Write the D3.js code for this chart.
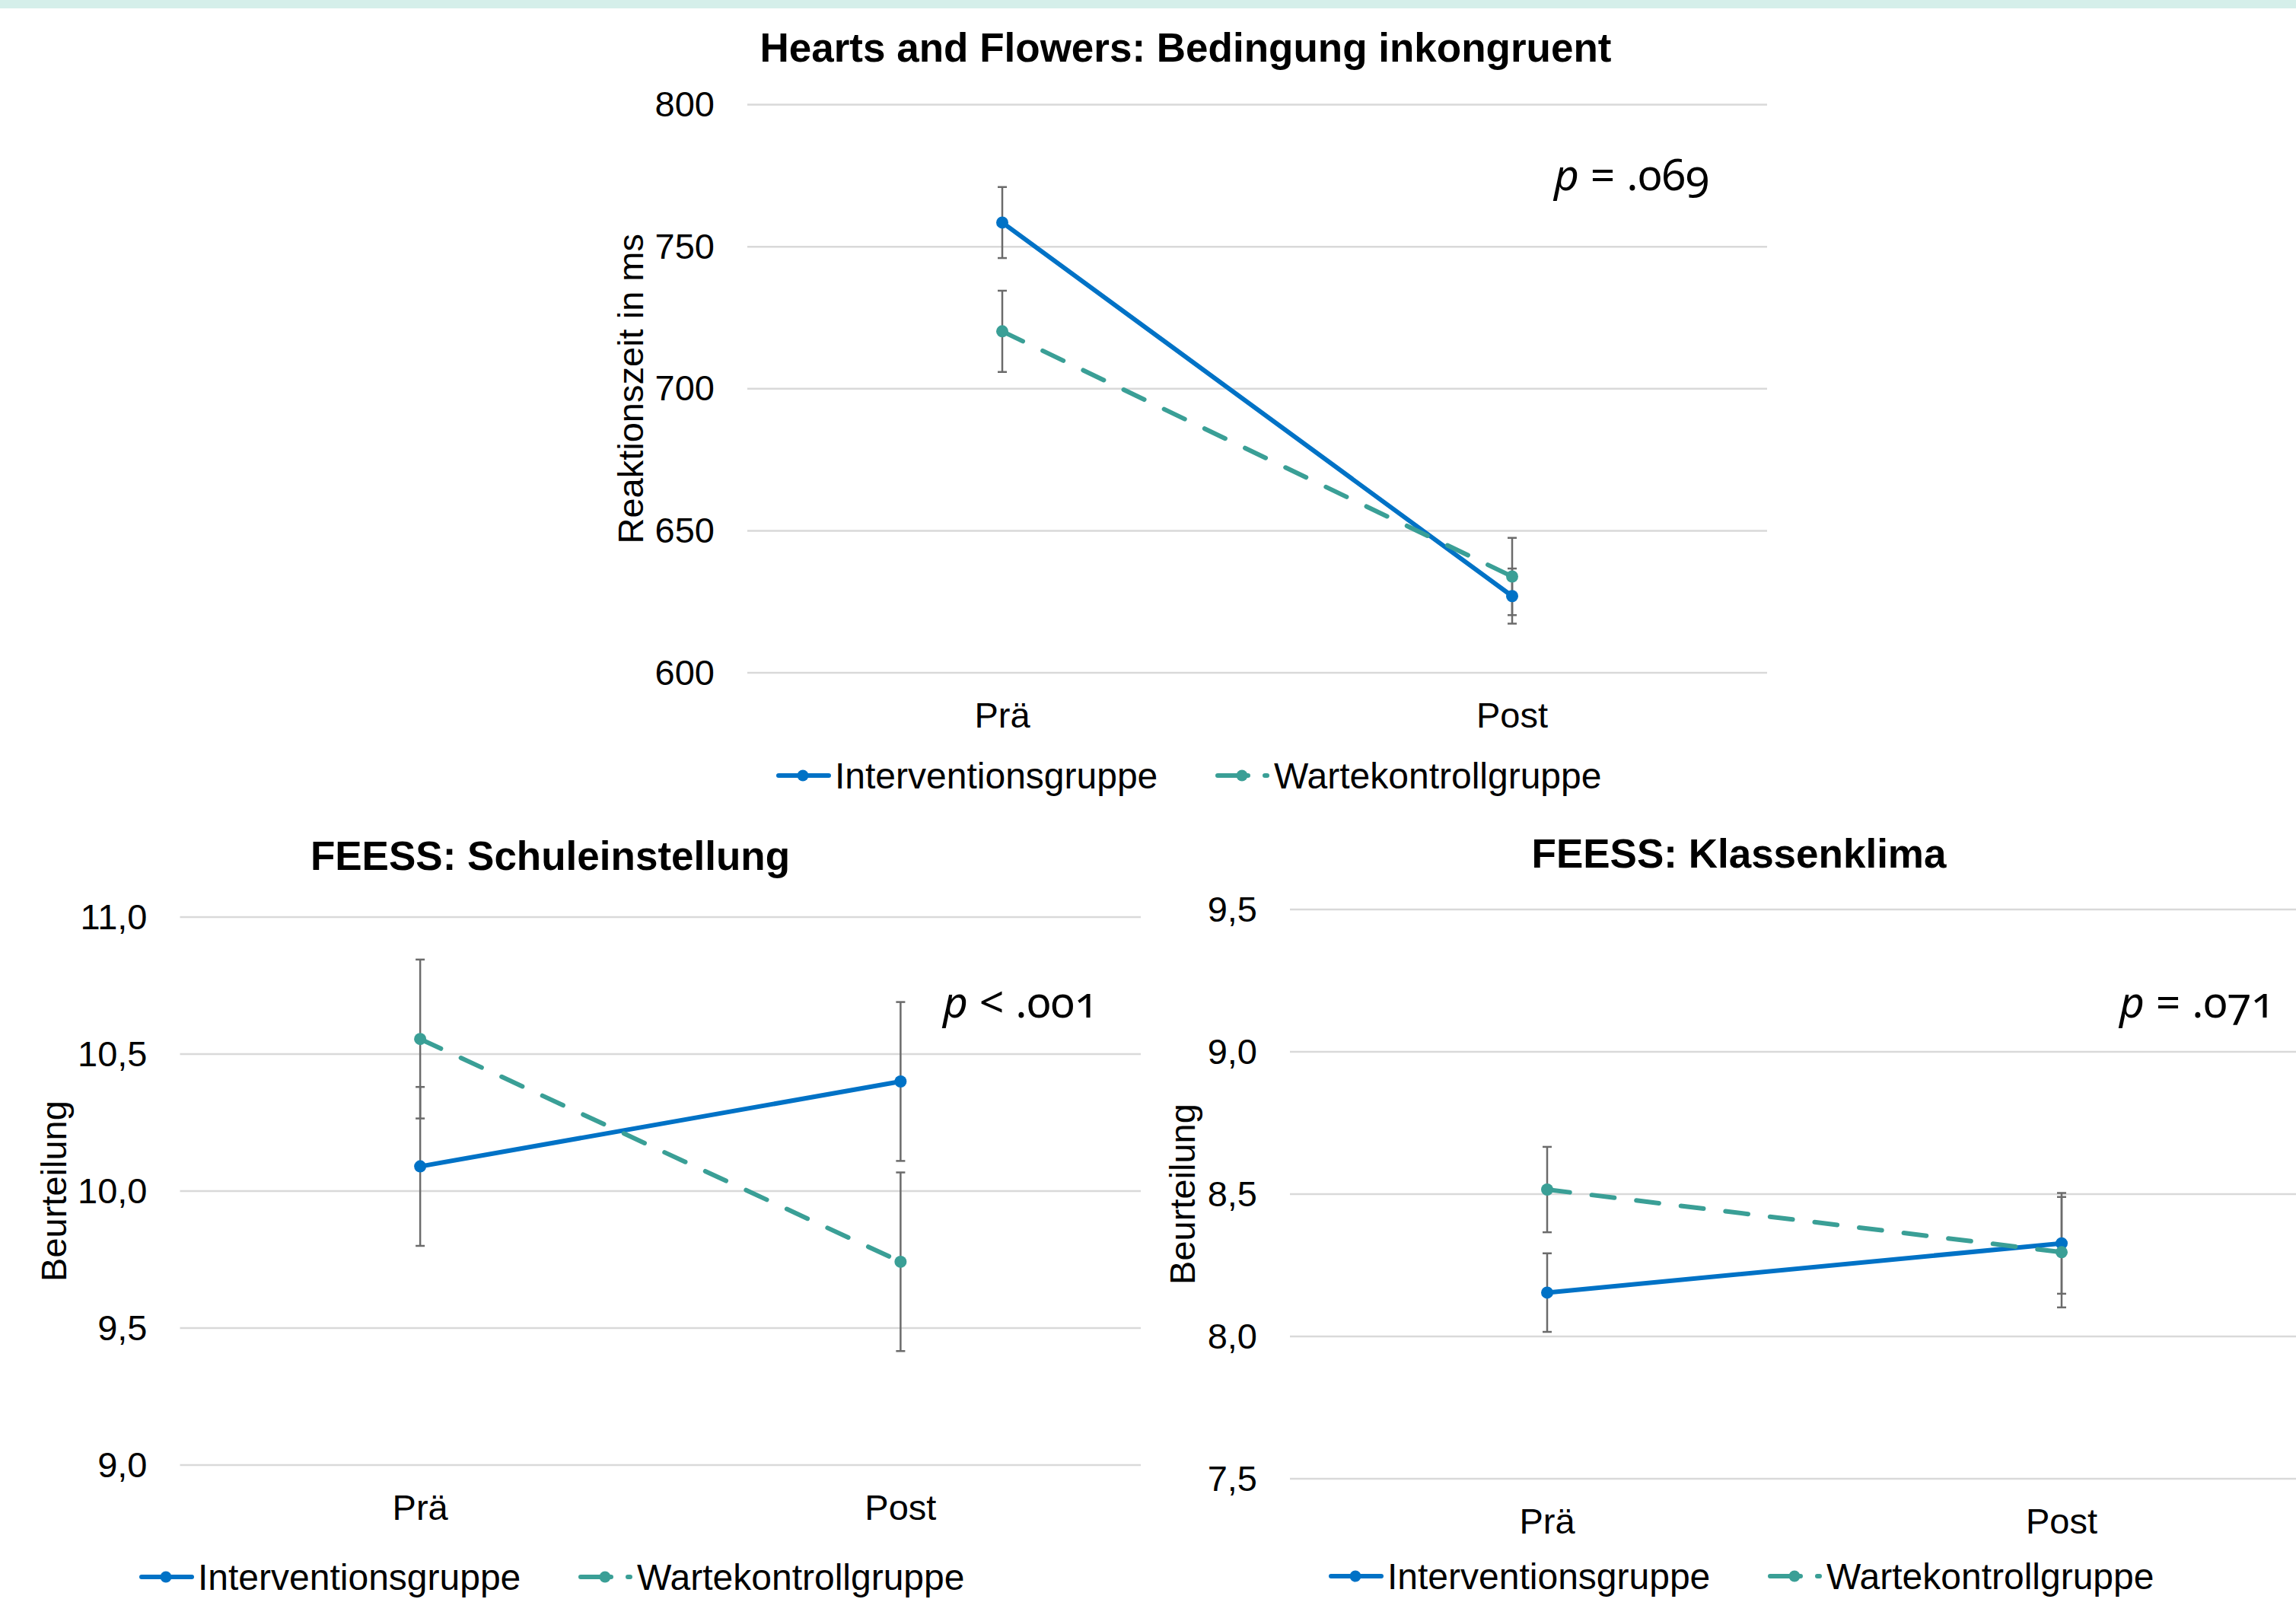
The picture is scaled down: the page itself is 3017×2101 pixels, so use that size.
<!DOCTYPE html>
<html><head><meta charset="utf-8">
<script src="https://cdn.jsdelivr.net/npm/d3@7"></script>
<style>html,body{margin:0;padding:0;background:#fff;overflow:hidden}</style>
</head><body>
<svg id="c" width="3017" height="2101"></svg>
<script>
// ---- data ----
const categories = ["Prä", "Post"];
const seriesNames = ["Interventionsgruppe", "Wartekontrollgruppe"];

const hfTicks = [600, 650, 700, 750, 800];
const hfIntervention = [758.5, 627.0];
const hfInterventionErr = [12.5, 9.7];
const hfWarte = [720.2, 633.9];
const hfWarteErr = [14.3, 13.6];

const schulTicks = [9.0, 9.5, 10.0, 10.5, 11.0];
const schulIntervention = [10.09, 10.40];
const schulInterventionErr = [0.29, 0.29];
const schulWarte = [10.555, 9.742];
const schulWarteErr = [0.29, 0.326];

const klassTicks = [7.5, 8.0, 8.5, 9.0, 9.5];
const klassIntervention = [8.154, 8.327];
const klassInterventionErr = [0.138, 0.177];
const klassWarte = [8.516, 8.296];
const klassWarteErr = [0.15, 0.194];

// ---- styles / layout ----
const FONT = "'Liberation Sans', Arial, sans-serif";
const BLUE = "#0072C6", TEAL = "#3A9F96", GRID = "#d9d9d9", ERR = "#6b6b6b";

const svg = d3.select("#c");
svg.append("rect").attr("width", 3017).attr("height", 2101).attr("fill", "#fff");
svg.append("rect").attr("x", 0).attr("y", 0).attr("width", 3017).attr("height", 11).attr("fill", "#d5efea");

const comma = d => d3.format(".1f")(d).replace(".", ",");

const charts = [
  { title: "Hearts and Flowers: Bedingung inkongruent", titleX: 1558, titleY: 81,
    left: 982, right: 2322, top: 137.5, bottom: 884, ticks: hfTicks, fmt: d3.format("d"),
    yTitle: "Reaktionszeit in ms", yTitleX: 845,
    p: ["p", " = .069"], pX: 2042, pY: 250,
    legX: 1020, legY: 1019,
    series: [[hfIntervention, hfInterventionErr], [hfWarte, hfWarteErr]] },
  { title: "FEESS: Schuleinstellung", titleX: 723, titleY: 1143,
    left: 236.5, right: 1499, top: 1205, bottom: 1925, ticks: schulTicks, fmt: comma,
    yTitle: "Beurteilung", yTitleX: 87,
    p: ["p", " < .001"], pX: 1239, pY: 1337,
    legX: 183, legY: 2072,
    series: [[schulIntervention, schulInterventionErr], [schulWarte, schulWarteErr]] },
  { title: "FEESS: Klassenklima", titleX: 2285, titleY: 1140,
    left: 1695, right: 3047, top: 1195, bottom: 1943, ticks: klassTicks, fmt: comma,
    yTitle: "Beurteilung", yTitleX: 1570,
    p: ["p", " = .071"], pX: 2785, pY: 1337,
    legX: 1746, legY: 2071,
    series: [[klassIntervention, klassInterventionErr], [klassWarte, klassWarteErr]] }
];

const colors = [BLUE, TEAL];
const dashes = [null, "30 29"];

charts.forEach(ch => {
  const g = svg.append("g");
  const x = d3.scaleBand().domain(categories).range([ch.left, ch.right]);
  const y = d3.scaleLinear().domain(d3.extent(ch.ticks)).range([ch.bottom, ch.top]);
  const cx = c => x(c) + x.bandwidth() / 2;

  // title
  g.append("text").attr("x", ch.titleX).attr("y", ch.titleY).attr("text-anchor", "middle")
    .attr("font-family", FONT).attr("font-weight", "bold").attr("font-size", 53).attr("fill", "#000")
    .text(ch.title);

  // gridlines
  g.selectAll(".grid").data(ch.ticks).enter().append("line")
    .attr("x1", ch.left).attr("x2", ch.right)
    .attr("y1", d => y(d)).attr("y2", d => y(d))
    .attr("stroke", GRID).attr("stroke-width", 2.5);

  // y axis labels via d3 axis
  const yAxis = d3.axisLeft(y).tickValues(ch.ticks).tickFormat(ch.fmt).tickSize(0).tickPadding(43);
  const ya = g.append("g").attr("transform", `translate(${ch.left},0)`).call(yAxis);
  ya.select(".domain").remove();
  ya.selectAll("text").attr("font-family", FONT).attr("font-size", 47).attr("fill", "#000");

  // x axis labels via d3 axis
  const xAxis = d3.axisBottom(x).tickSize(0).tickPadding(0);
  const xa = g.append("g").attr("transform", `translate(0,${ch.bottom})`).call(xAxis);
  xa.select(".domain").remove();
  xa.selectAll("text").attr("font-family", FONT).attr("font-size", 47).attr("fill", "#000")
    .attr("dy", null).attr("y", 72);

  // y title
  g.append("text").attr("transform", `translate(${ch.yTitleX},${(ch.top + ch.bottom) / 2}) rotate(-90)`)
    .attr("text-anchor", "middle").attr("font-family", FONT).attr("font-size", 47).attr("fill", "#000")
    .text(ch.yTitle);

  // error bars
  ch.series.forEach(([vals, errs], si) => {
    const eb = g.append("g");
    categories.forEach((c, i) => {
      const xx = cx(c), y1 = y(vals[i] + errs[i]), y2 = y(vals[i] - errs[i]);
      eb.append("line").attr("x1", xx).attr("x2", xx).attr("y1", y1).attr("y2", y2)
        .attr("stroke", ERR).attr("stroke-width", 2.5);
      [y1, y2].forEach(yy => eb.append("line").attr("x1", xx - 6).attr("x2", xx + 6)
        .attr("y1", yy).attr("y2", yy).attr("stroke", ERR).attr("stroke-width", 2.5));
    });
  });

  // lines + markers
  ch.series.forEach(([vals], si) => {
    const line = d3.line().x((d, i) => cx(categories[i])).y(d => y(d));
    g.append("path").attr("d", line(vals)).attr("fill", "none")
      .attr("stroke", colors[si]).attr("stroke-width", 6)
      .attr("stroke-linecap", "round").attr("stroke-dasharray", dashes[si]);
    g.selectAll(null).data(vals).enter().append("circle")
      .attr("cx", (d, i) => cx(categories[i])).attr("cy", d => y(d)).attr("r", 8)
      .attr("fill", colors[si]);
  });

  // p value
  const pt = g.append("text").attr("x", ch.pX).attr("y", ch.pY)
    .attr("font-family", "'Noto Sans', sans-serif").attr("font-size", 57).attr("fill", "#000")
    .style("font-feature-settings", "'onum' 1").style("font-variant-numeric", "oldstyle-nums");
  pt.append("tspan").attr("font-style", "italic").text(ch.p[0]);
  pt.append("tspan").text(ch.p[1]);

  // legend
  seriesNames.forEach((name, si) => {
    const lx = ch.legX + si * 577, ly = ch.legY;
    if (si === 0) {
      g.append("line").attr("x1", lx + 3).attr("x2", lx + 69).attr("y1", ly).attr("y2", ly)
        .attr("stroke", colors[si]).attr("stroke-width", 6).attr("stroke-linecap", "round");
    } else {
      g.append("line").attr("x1", lx + 3).attr("x2", lx + 68).attr("y1", ly).attr("y2", ly)
        .attr("stroke", colors[si]).attr("stroke-width", 6).attr("stroke-linecap", "round")
        .attr("stroke-dasharray", "40 22");
    }
    g.append("circle").attr("cx", lx + 35).attr("cy", ly).attr("r", 7.5).attr("fill", colors[si]);
    g.append("text").attr("x", lx + 77).attr("y", ly + 17)
      .attr("font-family", FONT).attr("font-size", 48).attr("fill", "#000").text(name);
  });
});
</script>
</body></html>
